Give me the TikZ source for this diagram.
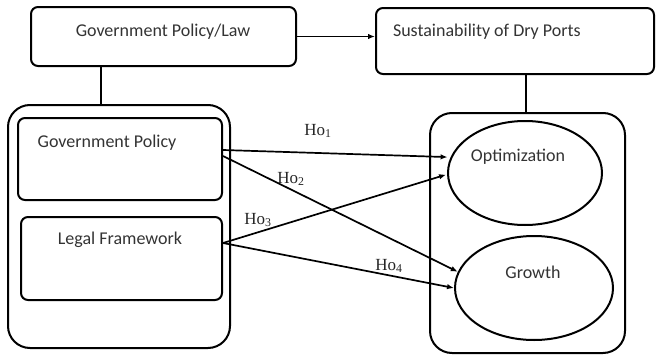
\documentclass[tikz,border=0pt]{standalone}
\usepackage{fontspec}
\setmainfont{Carlito}
\newfontfamily\hofont{Liberation Serif}
\usetikzlibrary{arrows.meta,shapes.geometric}
\begin{document}
\begin{tikzpicture}[x=1pt,y=-1pt,
  line width=2pt,
  box/.style={draw,rectangle,rounded corners=7pt,inner sep=0pt},
  group/.style={draw,rectangle,rounded corners=22pt,inner sep=0pt},
  oval/.style={draw,ellipse,inner sep=0pt},
  txt/.style={font=\fontsize{18}{20}\selectfont,text=black!80,inner sep=0pt},
  hlab/.style={font=\hofont\fontsize{17}{19}\selectfont,text=black!85,inner sep=0pt},
  arr/.style={-{Latex[length=7pt,width=5.5pt]},line width=1.7pt}]
\useasboundingbox (0,0) rectangle (656,356);

% top row
\node[box,minimum width=265pt,minimum height=59pt] (glaw) at (163.5,36.5) {};
\node[txt] (glawtxt) at (163,32) {Government Policy/Law};
\node[box,minimum width=278pt,minimum height=66pt] (sdp) at (515,41) {};
\node[txt,anchor=west] (sdptxt) at (392,32) {Sustainability of Dry Ports};

% left group: policy and legal framework
\node[group,minimum width=222pt,minimum height=243pt] (lc) at (119,226.5) {};
\node[box,minimum width=204pt,minimum height=82pt] (gp) at (120,159) {};
\node[txt] (gptxt) at (107,143) {Government Policy};
\node[box,minimum width=201pt,minimum height=83pt] (lf) at (121.5,258.5) {};
\node[txt] (lftxt) at (120,240) {Legal Framework};

% right group: outcomes
\node[group,minimum width=195pt,minimum height=240pt] (rc) at (527.5,233) {};
\node[oval,minimum width=154pt,minimum height=104pt] (opt) at (525,173) {};
\node[txt] (opttxt) at (518,157) {Optimization};
\node[oval,minimum width=158pt,minimum height=104pt] (gro) at (534,288) {};
\node[txt] (grotxt) at (533,272) {Growth};

% structural links
\coordinate (gl) at (101,0);
\coordinate (sr) at (526,0);
\draw (glaw.south -| gl) -- (lc.north -| gl);
\draw (sdp.south -| sr) -- (rc.north -| sr);
\draw[arr] (glaw.east) -- (glaw.east -| sdp.west);

% hypotheses
\draw[arr,shorten >=3pt] ([yshift=9pt]gp.east) -- (opt.168);
\draw[arr] ([yshift=3pt]gp.east) -- (gro.168);
\draw[arr,shorten >=1pt] ([yshift=15.5pt]lf.east) -- (opt.181);
\draw[arr] ([yshift=15.5pt]lf.east) -- (gro.180);

\node[hlab] (h1) at (318,131) {Ho\textsubscript{1}};
\node[hlab] (h2) at (291,179) {Ho\textsubscript{2}};
\node[hlab] (h3) at (258,220) {Ho\textsubscript{3}};
\node[hlab] (h4) at (389,266) {Ho\textsubscript{4}};
\end{tikzpicture}
\end{document}
